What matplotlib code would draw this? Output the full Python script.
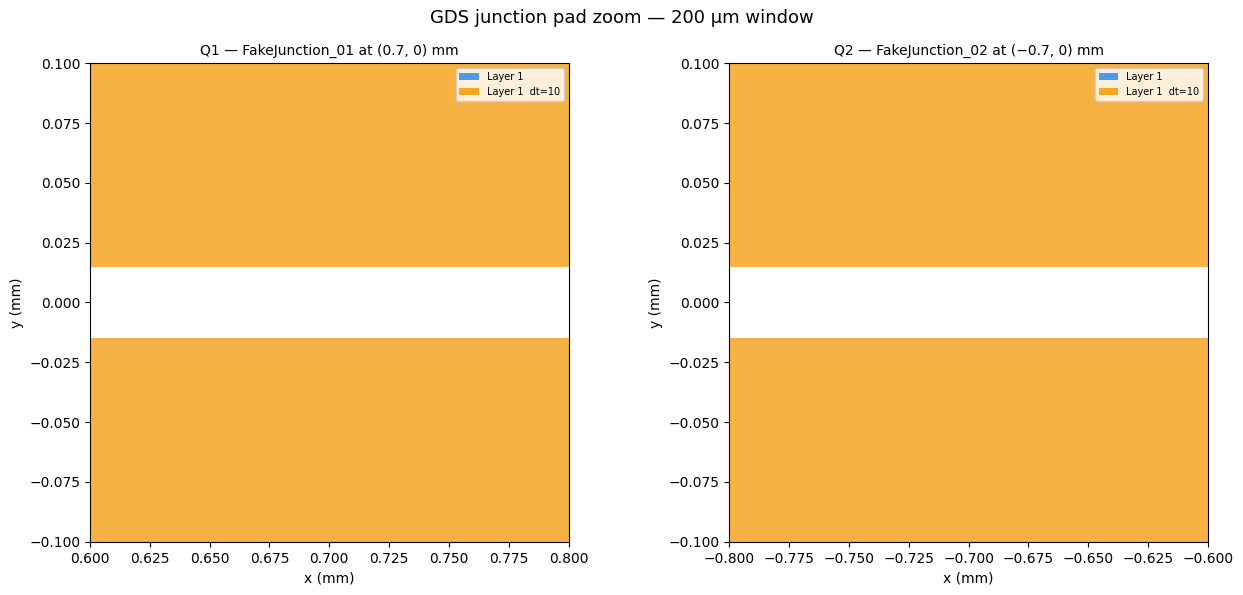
import matplotlib
matplotlib.use("Agg")
import matplotlib.pyplot as plt
from matplotlib.patches import Rectangle, Patch

titles = ["Q1 — FakeJunction_01 at (0.7, 0) mm", "Q2 — FakeJunction_02 at (\u22120.7, 0) mm"]
centers_x = [0.7, -0.7]
half_window = 0.1
gap_half = 0.015
pad_extent = 0.3
layer_labels = ["Layer 1", "Layer 1  dt=10"]
layer_colors = ["#4A9CE8", "#F5A623"]

fig, axes = plt.subplots(1, 2, figsize=(12.43, 5.95), dpi=100)
fig.subplots_adjust(left=0.0724, right=0.9718, top=0.8941, bottom=0.0891, wspace=0.336)
for ax, t, cx in zip(axes, titles, centers_x):
    for y0, y1 in [(gap_half, pad_extent), (-pad_extent, -gap_half)]:
        ax.add_patch(Rectangle((cx - pad_extent, y0), 2 * pad_extent, y1 - y0,
                               facecolor=layer_colors[1], alpha=0.85, edgecolor="none"))
    ax.set_xlim(cx - half_window, cx + half_window)
    ax.set_ylim(-half_window, half_window)
    ax.set_aspect("equal")
    ax.set_title(t, fontsize=10)
    ax.set_xlabel("x (mm)")
    ax.set_ylabel("y (mm)")
    handles = [Patch(facecolor=c, label=l) for c, l in zip(layer_colors, layer_labels)]
    ax.legend(handles=handles, loc="upper right", fontsize=7)

fig.suptitle("GDS junction pad zoom — 200 µm window", fontsize=13, y=0.985)
fig.savefig("out.png", dpi=100)
